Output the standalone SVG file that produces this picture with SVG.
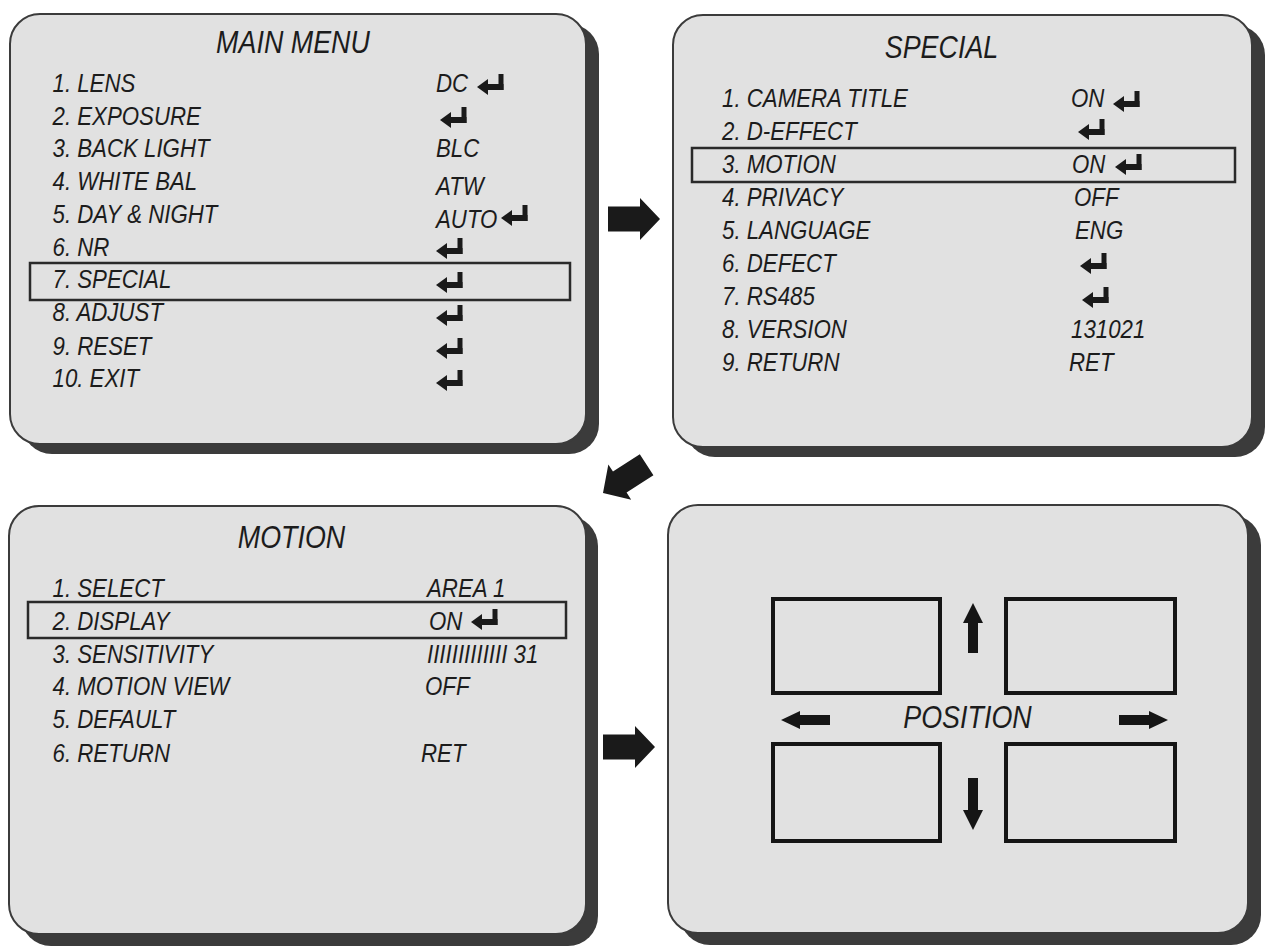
<svg xmlns="http://www.w3.org/2000/svg" xmlns:xlink="http://www.w3.org/1999/xlink" width="1265" height="951" viewBox="0 0 1265 951">
<defs>
<style>
.shadow{fill:#3b3b3b}
.panel{fill:#e1e1e1;stroke:#3b3b3b;stroke-width:2}
.hl{fill:none;stroke:#2a2a2a;stroke-width:2.5}
.t{font-family:"Liberation Sans",Arial,sans-serif;font-style:italic;font-size:26.5px;fill:#1c1c1c}
.title{font-size:32px;text-anchor:middle}
.box{fill:none;stroke:#151515;stroke-width:4}
.ar{fill:#151515}
.big{fill:#1a1a1a}
</style>
<symbol id="enter" viewBox="0 0 27 21" width="27" height="21">
<rect x="21.5" y="0" width="5" height="16" fill="#1a1a1a"/>
<rect x="9" y="10" width="17.5" height="6" fill="#1a1a1a"/>
<polygon points="0,13 11,5 11,21" fill="#1a1a1a"/>
</symbol>
<polygon id="bigArrow" points="0,0 -20,-21 -20,-12.5 -52,-12.5 -52,12.5 -20,12.5 -20,21"/>
</defs>
<rect width="1265" height="951" fill="#ffffff"/>

<g id="main-menu">
<rect class="shadow" x="22" y="24" width="577" height="430" rx="30"/>
<rect class="panel" x="10" y="14" width="576" height="430" rx="30"/>
<text class="t title" transform="translate(293,53) scale(0.84,1)">MAIN MENU</text>
<text class="t" transform="translate(52.5,92) scale(0.84,1)">1. LENS</text>
<text class="t" transform="translate(52.5,125) scale(0.84,1)">2. EXPOSURE</text>
<text class="t" transform="translate(52.5,157) scale(0.84,1)">3. BACK LIGHT</text>
<text class="t" transform="translate(52.5,190) scale(0.84,1)">4. WHITE BAL</text>
<text class="t" transform="translate(52.5,223) scale(0.84,1)">5. DAY &amp; NIGHT</text>
<text class="t" transform="translate(52.5,256) scale(0.84,1)">6. NR</text>
<text class="t" transform="translate(52.5,288) scale(0.84,1)">7. SPECIAL</text>
<text class="t" transform="translate(52.5,321) scale(0.84,1)">8. ADJUST</text>
<text class="t" transform="translate(52.5,355) scale(0.84,1)">9. RESET</text>
<text class="t" transform="translate(52.5,387) scale(0.84,1)">10. EXIT</text>
<text class="t" transform="translate(436,92) scale(0.84,1)">DC</text>
<text class="t" transform="translate(436,157) scale(0.84,1)">BLC</text>
<text class="t" transform="translate(436,195) scale(0.84,1)">ATW</text>
<text class="t" transform="translate(436,228) scale(0.84,1)">AUTO</text>
<use xlink:href="#enter" x="477" y="74"/>
<use xlink:href="#enter" x="440" y="107"/>
<use xlink:href="#enter" x="501" y="205"/>
<use xlink:href="#enter" x="436" y="238"/>
<use xlink:href="#enter" x="436" y="272"/>
<use xlink:href="#enter" x="436" y="305"/>
<use xlink:href="#enter" x="436" y="338"/>
<use xlink:href="#enter" x="436" y="370"/>
<rect class="hl" x="30" y="263" width="540" height="37"/>
</g>

<g id="special">
<rect class="shadow" x="685" y="25" width="580" height="432" rx="30"/>
<rect class="panel" x="673" y="15" width="579" height="432" rx="30"/>
<text class="t title" transform="translate(941.5,58) scale(0.84,1)">SPECIAL</text>
<text class="t" transform="translate(722,107) scale(0.84,1)">1. CAMERA TITLE</text>
<text class="t" transform="translate(722,140) scale(0.84,1)">2. D-EFFECT</text>
<text class="t" transform="translate(722,173) scale(0.84,1)">3. MOTION</text>
<text class="t" transform="translate(722,206) scale(0.84,1)">4. PRIVACY</text>
<text class="t" transform="translate(722,239) scale(0.84,1)">5. LANGUAGE</text>
<text class="t" transform="translate(722,272) scale(0.84,1)">6. DEFECT</text>
<text class="t" transform="translate(722,305) scale(0.84,1)">7. RS485</text>
<text class="t" transform="translate(722,338) scale(0.84,1)">8. VERSION</text>
<text class="t" transform="translate(722,371) scale(0.84,1)">9. RETURN</text>
<text class="t" transform="translate(1071,107) scale(0.84,1)">ON</text>
<text class="t" transform="translate(1072,173) scale(0.84,1)">ON</text>
<text class="t" transform="translate(1074,206) scale(0.84,1)">OFF</text>
<text class="t" transform="translate(1075,239) scale(0.84,1)">ENG</text>
<text class="t" transform="translate(1071,338) scale(0.84,1)">131021</text>
<text class="t" transform="translate(1069,371) scale(0.84,1)">RET</text>
<use xlink:href="#enter" x="1113" y="91"/>
<use xlink:href="#enter" x="1078" y="119"/>
<use xlink:href="#enter" x="1115" y="154"/>
<use xlink:href="#enter" x="1080" y="253"/>
<use xlink:href="#enter" x="1082" y="287"/>
<rect class="hl" x="692" y="148" width="543" height="34"/>
</g>

<g id="motion">
<rect class="shadow" x="21" y="516" width="577" height="430" rx="30"/>
<rect class="panel" x="9" y="506" width="577" height="428" rx="30"/>
<text class="t title" transform="translate(291.5,548) scale(0.84,1)">MOTION</text>
<text class="t" transform="translate(52.5,597) scale(0.84,1)">1. SELECT</text>
<text class="t" transform="translate(52.5,630) scale(0.84,1)">2. DISPLAY</text>
<text class="t" transform="translate(52.5,663) scale(0.84,1)">3. SENSITIVITY</text>
<text class="t" transform="translate(52.5,695) scale(0.84,1)">4. MOTION VIEW</text>
<text class="t" transform="translate(52.5,728) scale(0.84,1)">5. DEFAULT</text>
<text class="t" transform="translate(52.5,762) scale(0.84,1)">6. RETURN</text>
<text class="t" transform="translate(427,597) scale(0.84,1)">AREA 1</text>
<text class="t" transform="translate(429,630) scale(0.84,1)">ON</text>
<text class="t" transform="translate(427,663) scale(0.84,1)">IIIIIIIIIIIII 31</text>
<text class="t" transform="translate(425,695) scale(0.84,1)">OFF</text>
<text class="t" transform="translate(421,762) scale(0.84,1)">RET</text>
<use xlink:href="#enter" x="471" y="609"/>
<rect class="hl" x="28" y="602" width="538" height="36"/>
</g>

<g id="position">
<rect class="shadow" x="680" y="515" width="581" height="430" rx="30"/>
<rect class="panel" x="668" y="505" width="580" height="428" rx="30"/>
<rect class="box" x="773" y="599" width="167" height="94"/>
<rect class="box" x="1006" y="599" width="169" height="94"/>
<rect class="box" x="773" y="744" width="167" height="97"/>
<rect class="box" x="1006" y="744" width="169" height="97"/>
<polygon class="ar" points="973,603 983,623 978,623 978,653 968,653 968,623 963,623"/>
<polygon class="ar" points="973,830 983,810 978,810 978,778 968,778 968,810 963,810"/>
<polygon class="ar" points="781,720 800,711 800,715 830,715 830,725 800,725 800,729"/>
<polygon class="ar" points="1168,720 1149,711 1149,715 1119,715 1119,725 1149,725 1149,729"/>
<text class="t title" transform="translate(967.5,728) scale(0.84,1)">POSITION</text>
</g>

<g id="connectors">
<use xlink:href="#bigArrow" class="big" transform="translate(660,219)"/>
<use xlink:href="#bigArrow" class="big" transform="translate(603,493) rotate(147)"/>
<use xlink:href="#bigArrow" class="big" transform="translate(655,747)"/>
</g>
</svg>
